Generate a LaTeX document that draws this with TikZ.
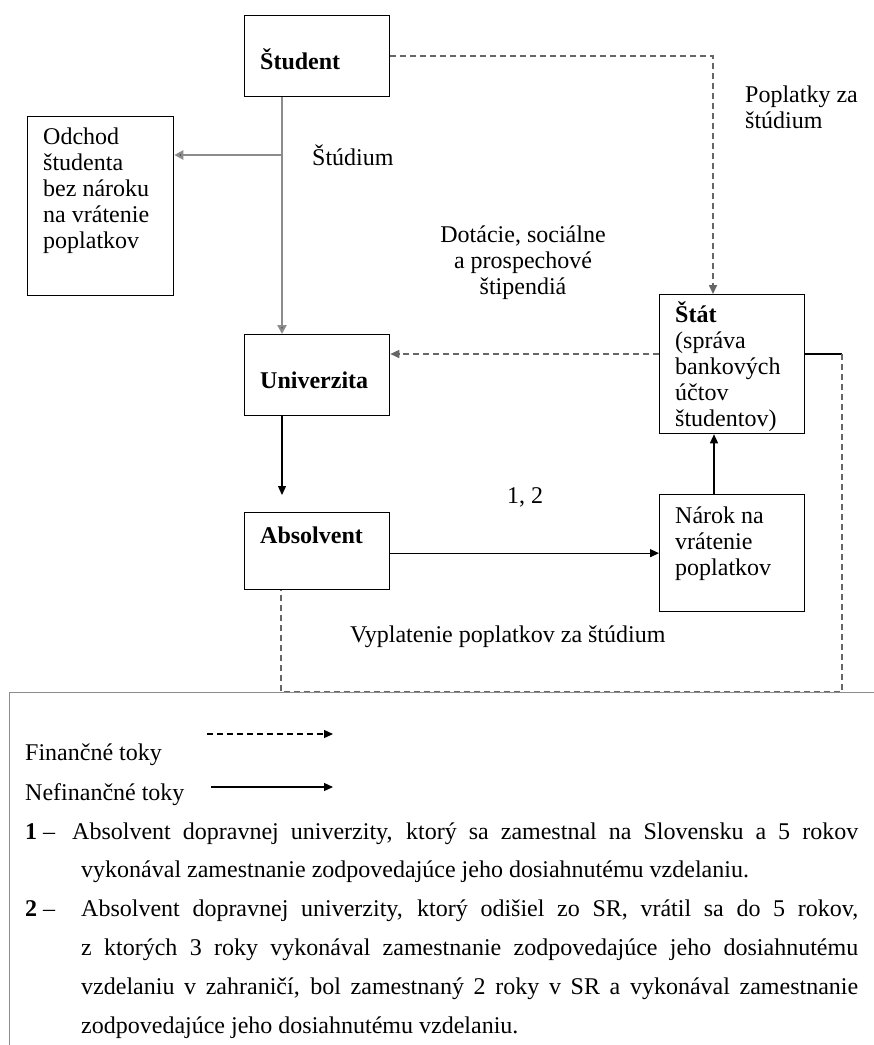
\documentclass[tikz,border=0pt]{standalone}
\usepackage{fontspec}
\setmainfont{Liberation Serif}
\usetikzlibrary{arrows.meta,positioning}

\tikzset{
  box/.style={draw, line width=1.3pt, anchor=north west, inner sep=0pt},
  txt/.style={anchor=base west, inner sep=0pt, align=left},
  tip/.style={-{Triangle[length=9pt,width=8pt]}},
  flow/.style={line width=1.3pt, tip},
  finflow/.style={line width=1.6pt, draw=black!60, dash pattern=on 6pt off 4pt},
  studyflow/.style={line width=2.6pt, draw=black!45, -{Triangle[length=9pt,width=9pt,fill=black!80]}},
}

\begin{document}
\begin{tikzpicture}[x=1pt, y=-1pt, font=\fontsize{24}{26}\selectfont]
  \useasboundingbox (0,0) rectangle (874,1045);

  % Obdlzniky
  \node[box, minimum width=145pt, minimum height=81pt] (student) at (244,15) {};
  \node[box, minimum width=146pt, minimum height=179pt] (odchod) at (27,116) {};
  \node[box, minimum width=145pt, minimum height=81pt] (univ) at (244,334) {};
  \node[box, minimum width=145pt, minimum height=77pt] (absol) at (244,512) {};
  \node[box, minimum width=145pt, minimum height=139pt] (stat) at (659,294) {};
  \node[box, minimum width=145pt, minimum height=117pt] (narok) at (659,494) {};

  % Texty v obdlznikoch (base = posledny riadok)
  \node[txt] (studenttxt) at (260,69) {\textbf{Študent}};
  \node[txt] (odchodtxt) at (43,248) {Odchod\\študenta\\bez nároku\\na vrátenie\\poplatkov};
  \node[txt] (univtxt) at (260,388) {\textbf{Univerzita}};
  \node[txt] (absoltxt) at (260,543) {\textbf{Absolvent}};
  \node[txt] (stattxt) at (675,426) {\textbf{Štát}\\(správa\\bankových\\účtov\\študentov)};
  \node[txt] (naroktxt) at (675,575) {Nárok na\\vrátenie\\poplatkov};

  % Popisy tokov
  \node[txt] (studium) at (312,165) {Štúdium};
  \node[txt] (poplatky) at (745,128) {Poplatky za\\štúdium};
  \node[txt, anchor=base, align=center] (dotacie) at (523,294) {Dotácie, sociálne\\a prospechové\\štipendiá};
  \node[txt, anchor=base] (cisla) at (525,503) {1, 2};
  \node[txt] (vyplatenie) at (350,642) {Vyplatenie poplatkov za štúdium};

  % Studium
  \coordinate (fork) at (282,155);
  \draw[studyflow] (student.south -| fork) -- (univ.north -| fork);
  \draw[studyflow] (fork) -- (odchod.east |- fork);

  % Financne toky
  \coordinate (poplatkyx) at (713,0);
  \coordinate (dotaciey) at (0,354);
  \draw[finflow, tip] (student.east) -| (stat.north -| poplatkyx);
  \draw[finflow, tip] (stat.west |- dotaciey) -- (univ.east |- dotaciey);
  \coordinate (rohA) at (842,354);
  \coordinate (rohB) at (842,692);
  \coordinate (rohC) at (281,692);
  \draw[line width=1.3pt] (stat.east |- rohA) -- (rohA);
  \draw[finflow] (rohA) -- (rohB) -- (rohC) -- (absol.south -| rohC);

  % Nefinancne toky
  \coordinate (narokx) at (714,0);
  \draw[flow, shorten >=17pt] (univ.south -| fork) -- (absol.north -| fork);
  \draw[flow] (narok.west -| absol.east) -- (narok.west);
  \draw[flow] (narok.north -| narokx) -- (stat.south -| narokx);

  % Legenda
  \draw[black!45, line width=1pt] (9,1045) -- (9,692) -- (874,692);
  \node[txt] (fin) at (25,760) {Finančné toky};
  \node[txt] (nefin) at (25,800) {Nefinančné toky};
  \coordinate (finA) at (207,734);
  \coordinate (finB) at (333,734);
  \coordinate (nefinA) at (211,787);
  \coordinate (nefinB) at (333,787);
  \draw[flow, dash pattern=on 6pt off 4pt] (finA) -- (finB);
  \draw[flow] (nefinA) -- (nefinB);
  \node[anchor=base west, inner sep=0pt, text width=833pt, align=justify] (items) at (25,839) {%
    \setlength{\baselineskip}{38.8pt}\hyphenpenalty=10000
    \hangindent=56pt\hangafter=1 \makebox[47pt][l]{\textbf{1} –}Absolvent dopravnej univerzity, ktorý sa zamestnal na Slovensku a 5 rokov\linebreak
    vykonával zamestnanie zodpovedajúce jeho dosiahnutému vzdelaniu.\par
    \hangindent=56pt\hangafter=1 \makebox[56pt][l]{\textbf{2} –}Absolvent dopravnej univerzity, ktorý odišiel zo SR, vrátil sa do 5 rokov,\linebreak
    z ktorých 3 roky vykonával zamestnanie zodpovedajúce jeho dosiahnutému\linebreak
    vzdelaniu v zahraničí, bol zamestnaný 2 roky v SR a vykonával zamestnanie\linebreak
    zodpovedajúce jeho dosiahnutému vzdelaniu.\par};
\end{tikzpicture}
\end{document}
